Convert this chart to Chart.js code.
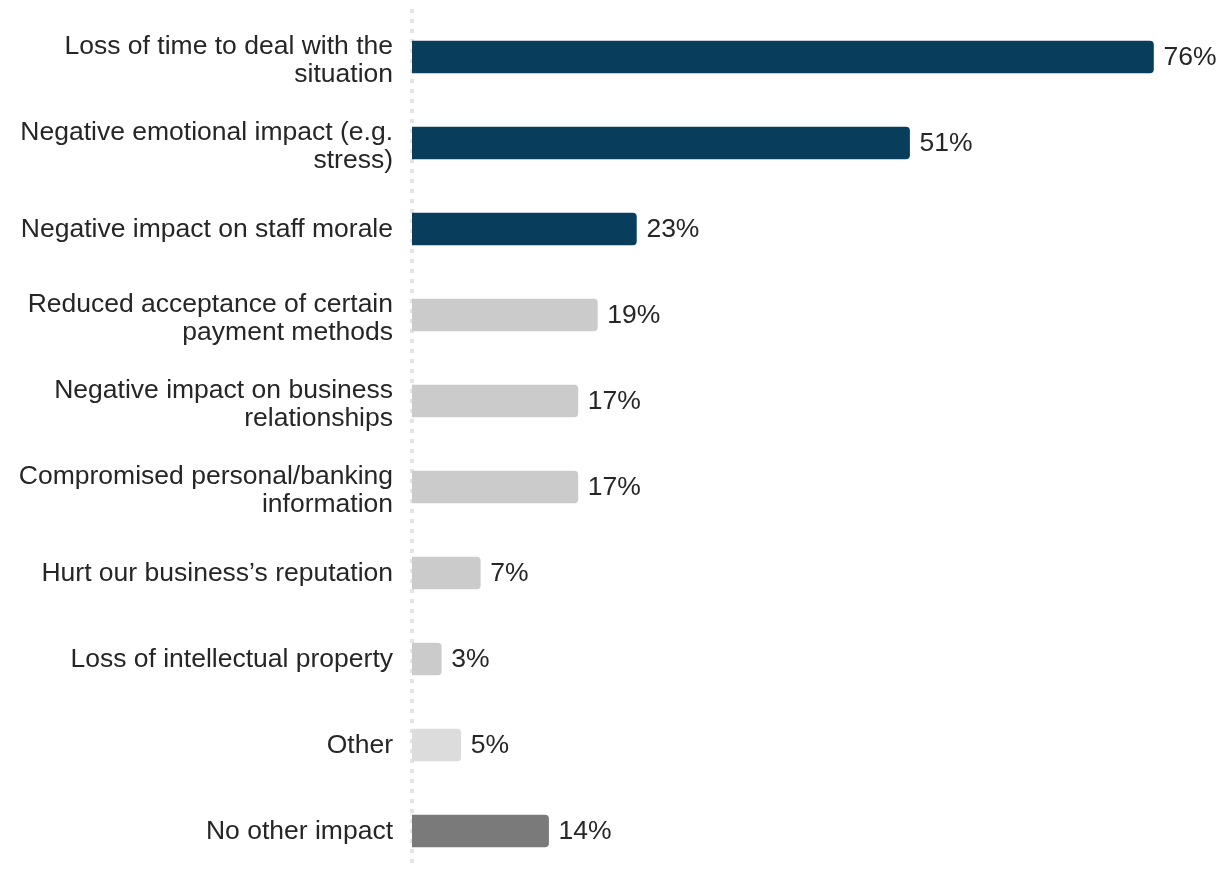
<!DOCTYPE html>
<html>
<head>
<meta charset="utf-8">
<script src="https://cdn.jsdelivr.net/npm/chart.js@4"></script>
<style>
  html, body { margin: 0; padding: 0; background: #fff; overflow: hidden; }
  #wrap { position: relative; width: 1220px; height: 874px; }
</style>
</head>
<body>
<div id="wrap"><canvas id="myChart"></canvas></div>
<script>
const CATEGORIES = [
  ['Loss of time to deal with the', 'situation'],
  ['Negative emotional impact (e.g.', 'stress)'],
  'Negative impact on staff morale',
  ['Reduced acceptance of certain', 'payment methods'],
  ['Negative impact on business', 'relationships'],
  ['Compromised personal/banking', 'information'],
  'Hurt our business\u2019s reputation',
  'Loss of intellectual property',
  'Other',
  'No other impact'
];
const VALUES = [76, 51, 23, 19, 17, 17, 7, 3, 5, 14];
const BAR_COLORS = ['#083d5c', '#083d5c', '#083d5c', '#cbcbcb', '#cbcbcb', '#cbcbcb', '#cbcbcb', '#cbcbcb', '#dcdcdc', '#7a7a7a'];

const FONT = '"Liberation Sans", Arial, sans-serif';
const FONT_SIZE = 26.5;
const LINE_GAP = 28;
const TEXT_COLOR = '#262626';

// category names, right aligned next to the axis (wrapped ones sit a bit low)
const categoryLabels = {
  id: 'categoryLabels',
  afterDraw(chart) {
    const ctx = chart.ctx;
    const y = chart.scales.y;
    const right = chart.scales.x.getPixelForValue(0) - 19;
    ctx.save();
    ctx.font = FONT_SIZE + 'px ' + FONT;
    ctx.fillStyle = TEXT_COLOR;
    ctx.textBaseline = 'middle';
    ctx.textAlign = 'right';
    CATEGORIES.forEach((label, i) => {
      const lines = Array.isArray(label) ? label : [label];
      const mid = y.getPixelForValue(i) + (lines.length > 1 ? 3.5 : 1);
      const top = mid - (lines.length - 1) * LINE_GAP / 2;
      lines.forEach((line, k) => ctx.fillText(line, right, top + k * LINE_GAP));
    });
    ctx.restore();
  }
};

// percent text at the end of each bar
const valueLabels = {
  id: 'valueLabels',
  afterDatasetsDraw(chart) {
    const ctx = chart.ctx;
    const meta = chart.getDatasetMeta(0);
    ctx.save();
    ctx.font = FONT_SIZE + 'px ' + FONT;
    ctx.fillStyle = TEXT_COLOR;
    ctx.textBaseline = 'middle';
    ctx.textAlign = 'left';
    meta.data.forEach((bar, i) => {
      ctx.fillText(VALUES[i] + '%', bar.x + 10, bar.y + 1);
    });
    ctx.restore();
  }
};

// dotted baseline at zero
const zeroLine = {
  id: 'zeroLine',
  beforeDatasetsDraw(chart) {
    const ctx = chart.ctx;
    const x = chart.scales.x.getPixelForValue(0);
    ctx.save();
    ctx.strokeStyle = '#e4e4e4';
    ctx.lineWidth = 4;
    ctx.setLineDash([4, 6]);
    ctx.beginPath();
    ctx.moveTo(x, 9);
    ctx.lineTo(x, 868);
    ctx.stroke();
    ctx.restore();
  }
};

let ctx = document.querySelector('#myChart').getContext('2d');
let myChart = new Chart(ctx, {
  type: 'bar',
  data: {
    labels: CATEGORIES,
    datasets: [{
      data: VALUES,
      backgroundColor: BAR_COLORS,
      borderWidth: 0,
      borderRadius: { topLeft: 0, bottomLeft: 0, topRight: 4, bottomRight: 4 },
      borderSkipped: 'start',
      barThickness: 32
    }]
  },
  options: {
    indexAxis: 'y',
    responsive: true,
    maintainAspectRatio: false,
    animation: false,
    layout: { padding: { top: 14, right: 8, bottom: 0, left: 0 } },
    plugins: {
      legend: { display: false },
      tooltip: { enabled: false }
    },
    scales: {
      x: {
        display: false,
        min: 0,
        max: 82
      },
      y: {
        afterFit(scale) {
          scale.width = 412;
          scale.paddingTop = 0;
          scale.paddingBottom = 0;
        },
        grid: { display: false, drawTicks: false },
        border: { display: false },
        ticks: { display: false }
      }
    }
  },
  plugins: [zeroLine, valueLabels, categoryLabels]
});
</script>
</body>
</html>
